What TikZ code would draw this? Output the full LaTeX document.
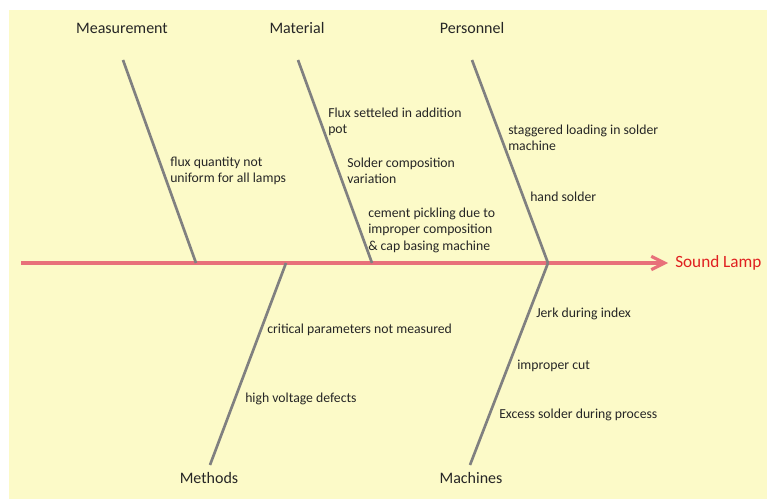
\documentclass[tikz,border=0pt]{standalone}
\usepackage{fontspec}
\setmainfont{Carlito}
\usetikzlibrary{arrows.meta}
\definecolor{paper}{HTML}{FCFAC8}
\definecolor{spinered}{HTML}{E8707A}
\definecolor{bonegray}{HTML}{808080}
\definecolor{effectred}{HTML}{E02020}
\tikzset{x=0.75pt,y=-0.75pt,every node/.style={inner sep=0pt},
  cat/.style={font=\fontsize{12}{13}\selectfont,text=black!85},
  cause/.style={font=\fontsize{10.3}{12.4}\selectfont,anchor=west,align=left,text=black!85},
  bone/.style={draw=bonegray,line width=2pt},
  spine/.style={draw=spinered,line width=2.3pt,-{Straight Barb[length=10pt,width=10pt]}}}

\begin{document}
\begin{tikzpicture}
    \useasboundingbox (0,0) rectangle (767,499);
    \fill[paper] (9,10) rectangle (767,499);
    % categories
    \node[cat] (meas) at (122,28) {Measurement};
    \node[cat] (mat) at (297,28) {Material};
    \node[cat] (pers) at (472,28) {Personnel};
    \node[cat] (meth) at (209,478) {Methods};
    \node[cat] (mach) at (471,478) {Machines};
    \node[anchor=west,font=\fontsize{12.9}{14}\selectfont,text=effectred] (lamp) at (675,263) {Sound Lamp};
    % bone ends
    \coordinate (tail) at (21,263);
    \coordinate (head) at (668,263);
    \coordinate (meas top) at (123,60);
    \coordinate (meas end) at (196,263);
    \coordinate (mat top) at (298,60);
    \coordinate (mat end) at (372,263);
    \coordinate (pers top) at (472,60);
    \coordinate (pers end) at (548,263);
    \coordinate (meth bot) at (210,465);
    \coordinate (meth end) at (286,263);
    \coordinate (mach bot) at (470,465);
    \coordinate (mach end) at (548,263);
    \path[spine] (tail) -- (head);
    \path[bone]
    (meas top) edge (meas end)
    (mat top) edge (mat end)
    (pers top) edge (pers end)
    (meth bot) edge (meth end)
    (mach bot) edge (mach end)
    ;
    % causes
    \node[cause] (c1) at (170,171) {flux quantity not\\uniform for all lamps};
    \node[cause] (c2) at (328,122) {Flux setteled in addition\\pot};
    \node[cause] (c3) at (347,171) {Solder composition\\variation};
    \node[cause] (c4) at (368,230) {cement pickling due to\\improper composition\\\& cap basing machine};
    \node[cause] (c5) at (508,138) {staggered loading in solder\\machine};
    \node[cause] (c6) at (530,197) {hand solder};
    \node[cause] (c7) at (267,330) {critical parameters not measured};
    \node[cause] (c8) at (245,399) {high voltage defects};
    \node[cause] (c9) at (536,314) {Jerk during index};
    \node[cause] (c10) at (517,366) {improper cut};
    \node[cause] (c11) at (499,415) {Excess solder during process};
\end{tikzpicture}
\end{document}
